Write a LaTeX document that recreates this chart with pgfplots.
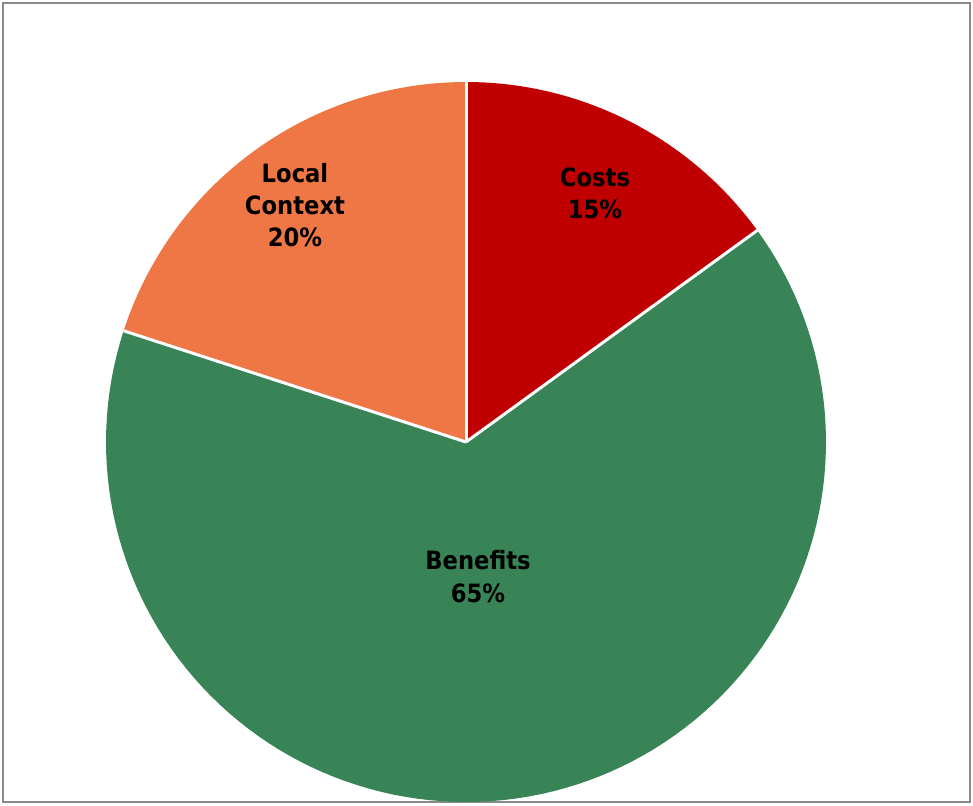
\documentclass[border=0pt]{standalone}
\usepackage{pgfplots}
\pgfplotsset{compat=1.18}
\usepackage{fontspec}
\setmainfont{DejaVu Sans Condensed}
\definecolor{costred}{HTML}{C00000}
\definecolor{bengreen}{HTML}{388457}
\definecolor{locorange}{HTML}{EF7645}
\definecolor{framegray}{HTML}{898989}
% shares in percent
\def\vCosts{15}
\def\vBenefits{65}
\def\vLocal{20}
\begin{document}
\begin{tikzpicture}
\pgfmathsetmacro{\aA}{90}
\pgfmathsetmacro{\aB}{90-3.6*\vCosts}
\pgfmathsetmacro{\aC}{\aB-3.6*\vBenefits}
\pgfmathsetmacro{\aD}{\aC-3.6*\vLocal}
\begin{axis}[
  scale only axis,
  width=483.5pt, height=399.5pt,
  xmin=3, xmax=970, ymin=3, ymax=802,
  axis line style={framegray, line width=1pt},
  ticks=none,
  clip=false,
  samples=120,
]
\addplot[draw=none, fill=costred, domain=\aB:\aA] ({466+360*cos(x)},{363+360*sin(x)}) -- (axis cs:466,363) -- cycle;
\addplot[draw=none, fill=bengreen, domain=\aC:\aB] ({466+360*cos(x)},{363+360*sin(x)}) -- (axis cs:466,363) -- cycle;
\addplot[draw=none, fill=locorange, domain=\aD:\aC] ({466+360*cos(x)},{363+360*sin(x)}) -- (axis cs:466,363) -- cycle;
% white separators
\draw[white, line width=1.5pt] (axis cs:466,363) -- (axis cs:466,723);
\draw[white, line width=1.5pt] (axis cs:466,363) -- (axis cs:{466+360*cos(\aB)},{363+360*sin(\aB)});
\draw[white, line width=1.5pt] (axis cs:466,363) -- (axis cs:{466+360*cos(\aC)},{363+360*sin(\aC)});
\node[font=\bfseries\fontsize{12.6}{16}\selectfont, align=center] at (axis cs:595,612) {Costs\\15\%};
\node[font=\bfseries\fontsize{12.6}{16}\selectfont, align=center] at (axis cs:295,600) {Local\\Context\\20\%};
\node[font=\bfseries\fontsize{12.6}{16.5}\selectfont, align=center] at (axis cs:478,228) {Benefits\\65\%};
\end{axis}
\path[use as bounding box] ([shift={(-1.5pt,-1.5pt)}]current axis.south west) rectangle ([shift={(1.5pt,1.5pt)}]current axis.north east);
\end{tikzpicture}
\end{document}
